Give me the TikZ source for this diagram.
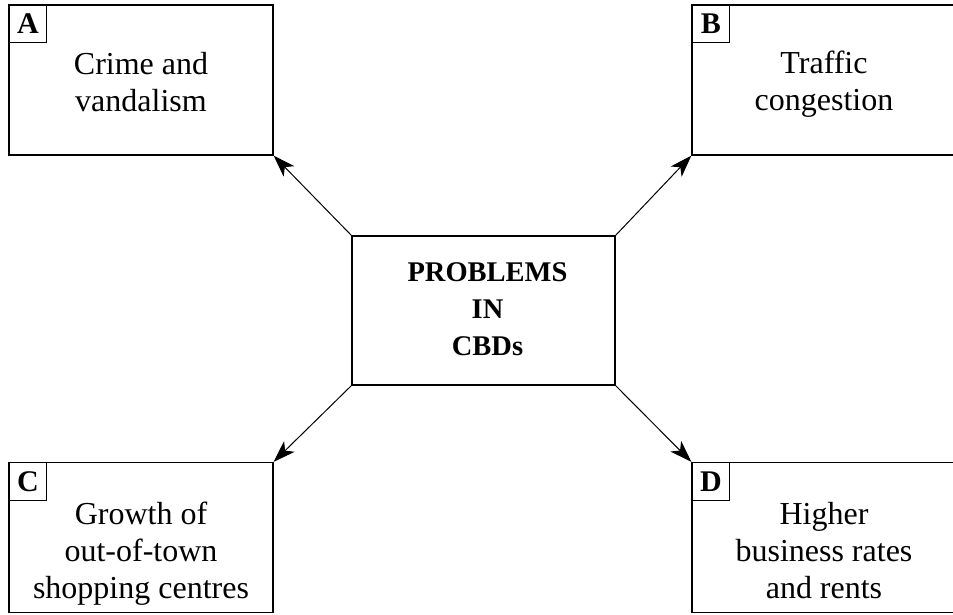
\documentclass[tikz,border=0pt]{standalone}
\usepackage{fontspec}
\setmainfont{Liberation Serif}
\usetikzlibrary{arrows.meta}

\begin{document}
\begin{tikzpicture}[
        x=1pt, y=-1pt,
        panel/.style={rectangle, draw, line width=1.3pt, minimum width=264pt, minimum height=150pt, inner sep=0pt},
        hub/.style={rectangle, draw, line width=1.3pt, minimum width=263pt, minimum height=149pt, inner sep=0pt},
        tag/.style={rectangle, draw, line width=1.1pt, minimum size=38pt, inner sep=0pt, anchor=north west, font=\fontsize{30}{32}\selectfont\bfseries},
        words/.style={align=center, inner sep=0pt, font=\fontsize{32}{37}\selectfont},
        link/.style={line width=1pt, -{Stealth[length=22pt, width=15pt, inset=6pt]}}
    ]
    \useasboundingbox (0,0) rectangle (953,614);
    \clip (0,0) rectangle (953,614);

    % central box
    \node[hub] (problems) at (483.5,310.5) {};
    \node[words, font=\fontsize{28.5}{37}\selectfont\bfseries] (problemsText) at ([xshift=4pt, yshift=1pt]problems.center) {PROBLEMS\\IN\\CBDs};

    % outer boxes
    \node[panel] (crime) at (141,80) {};
    \node[panel] (traffic) at (824,80) {};
    \node[panel] (growth) at (141,537.5) {};
    \node[panel] (rates) at (824,537.5) {};

    \node[words] (crimeText) at ([yshift=-2pt]crime.center) {Crime and\\vandalism};
    \node[words] (trafficText) at ([yshift=-4pt]traffic.center) {Traffic\\congestion};
    \node[words] (growthText) at ([yshift=-16pt]growth.center) {Growth of\\out-of-town\\shopping centres};
    \node[words] (ratesText) at ([yshift=-13pt]rates.center) {Higher\\business rates\\and rents};

    % letter tags
    \node[tag] (tagA) at (crime.north west) {A};
    \node[tag] (tagB) at (traffic.north west) {B};
    \node[tag] (tagC) at (growth.north west) {C};
    \node[tag] (tagD) at (rates.north west) {D};

    % arrows out of the centre
    \draw[link] (problems.north west) -- (crime.south east);
    \draw[link] (problems.north east) -- (traffic.south west);
    \draw[link] (problems.south west) -- (growth.north east);
    \draw[link] (problems.south east) -- (rates.north west);
\end{tikzpicture}
\end{document}
